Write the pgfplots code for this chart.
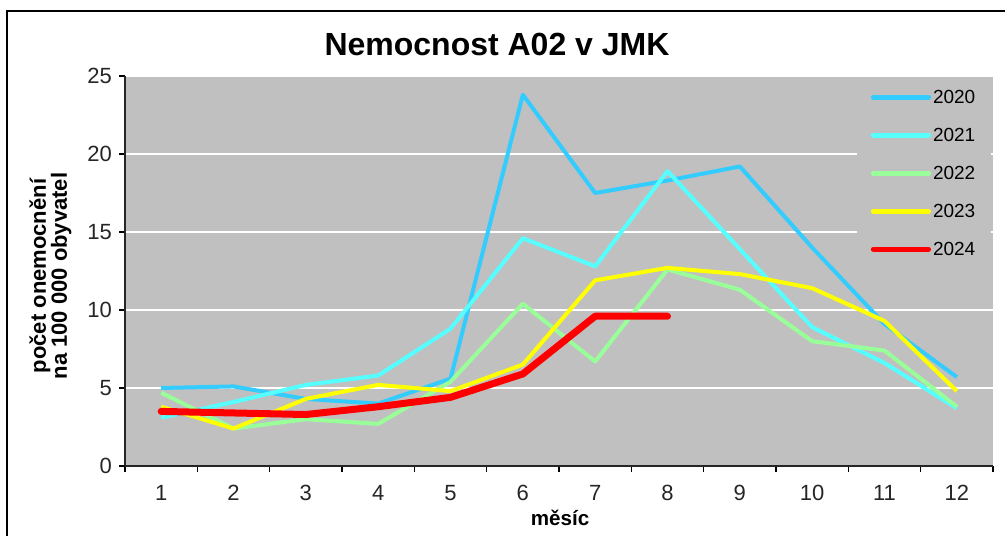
\documentclass[border=0pt]{standalone}
\usepackage{fontspec}
\setmainfont{Liberation Sans}
\usepackage{pgfplots}
\pgfplotsset{compat=1.18}

\definecolor{bggray}{HTML}{C0C0C0}
\definecolor{c2020}{HTML}{33CCFF}
\definecolor{c2021}{HTML}{55FFFF}
\definecolor{c2022}{HTML}{99FF99}
\definecolor{c2023}{HTML}{FFFF00}
\definecolor{c2024}{HTML}{FF0000}

\begin{document}
\begin{tikzpicture}
% page size and outer frame
\path[use as bounding box] (0,0) rectangle (502.5pt,267.5pt);
\draw[black, line width=1pt] (3.5pt,-1pt) -- (3.5pt,262pt) -- (504pt,262pt);

\node[font=\bfseries\fontsize{16}{19}\selectfont] at (248.5pt,245.5pt) {Nemocnost A02 v JMK};
\node[font=\bfseries\fontsize{11}{10.5}\selectfont, rotate=90, align=center]
  at (25.25pt,129.5pt) {počet onemocnění\\na 100 000 obyvatel};
\node[font=\bfseries\fontsize{10.3}{12}\selectfont, anchor=base] at (280pt,5pt) {měsíc};

\begin{axis}[
  at={(62.5pt,34.5pt)}, anchor=south west,
  scale only axis, width=434pt, height=195pt,
  xmin=0.5, xmax=12.5, ymin=0, ymax=25,
  xtick={1,...,12}, minor xtick={0.5,1.5,...,12.5},
  ytick={0,5,...,25},
  axis x line*=bottom, axis y line*=left,
  axis line style={black!85, line width=0.6pt},
  tick align=outside,
  major tick length=3pt, minor tick length=3pt,
  major x tick style={draw=none},
  minor x tick style={black, line width=0.6pt},
  major y tick style={black, line width=0.6pt},
  axis background/.style={fill=bggray},
  ymajorgrids, major grid style={white, line width=0.75pt},
  /pgf/number format/assume math mode=true,
  tick label style={font=\fontsize{11}{12}\selectfont, text=black!85},
  xticklabel style={yshift=-3pt},
  legend style={at={(0.9985,0.995)}, anchor=north east,
    fill=bggray, draw=none, font=\fontsize{9.5}{10}\selectfont,
    inner xsep=7pt, inner ysep=5pt, row sep=10.2pt,
    nodes={inner sep=1pt, text height=6.8pt, text depth=0pt},
    /tikz/every even column/.append style={column sep=0.5pt}},
  legend cell align=left,
  legend image code/.code={\draw[#1, line width=2.6pt, line cap=round] (0pt,0pt) -- (27.5pt,0pt);},
  every axis plot/.append style={line join=round, line width=2pt},
]
\addplot[c2020] coordinates {(1,5.0) (2,5.1) (3,4.3) (4,4.0) (5,5.6) (6,23.8) (7,17.5) (8,18.3) (9,19.2) (10,14.0) (11,9.1) (12,5.7)};
\addlegendentry{2020}
\addplot[c2021] coordinates {(1,3.1) (2,4.1) (3,5.2) (4,5.8) (5,8.8) (6,14.6) (7,12.8) (8,18.9) (9,13.9) (10,8.9) (11,6.6) (12,3.7)};
\addlegendentry{2021}
\addplot[c2022] coordinates {(1,4.7) (2,2.4) (3,3.0) (4,2.7) (5,5.4) (6,10.4) (7,6.7) (8,12.6) (9,11.3) (10,8.0) (11,7.4) (12,3.8)};
\addlegendentry{2022}
\addplot[c2023] coordinates {(1,3.8) (2,2.4) (3,4.3) (4,5.2) (5,4.8) (6,6.5) (7,11.9) (8,12.7) (9,12.3) (10,11.4) (11,9.3) (12,4.8)};
\addlegendentry{2023}
\addplot[c2024, line width=3.5pt, line cap=round] coordinates {(1,3.5) (2,3.4) (3,3.3) (4,3.8) (5,4.4) (6,5.9) (7,9.6) (8,9.6)};
\addlegendentry{2024}
\end{axis}
\end{tikzpicture}
\end{document}
